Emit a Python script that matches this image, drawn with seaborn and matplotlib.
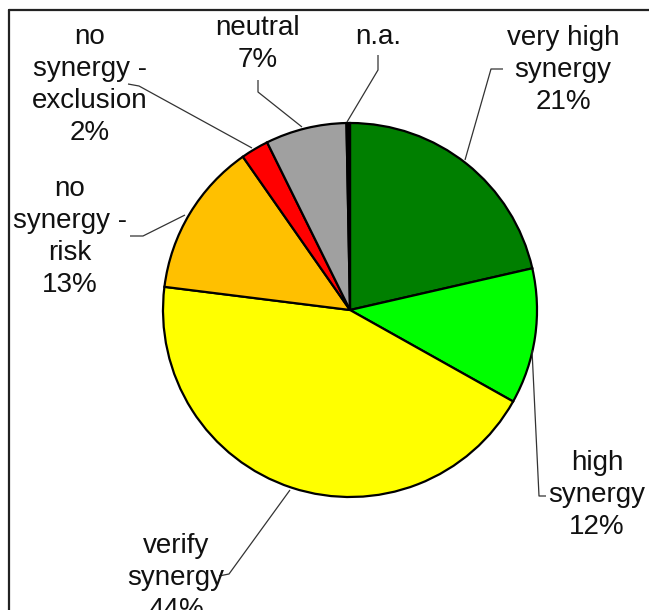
import matplotlib
matplotlib.use("Agg")
import matplotlib.pyplot as plt
import seaborn as sns

# ---- data ----
categories = ["very high\nsynergy", "high\nsynergy", "verify\nsynergy",
              "no\nsynergy -\nrisk", "no\nsynergy -\nexclusion", "neutral", "n.a."]
values = [21.4, 11.7, 43.8, 13.3, 2.4, 7.0, 0.3]
show_pct = [True, True, True, True, True, True, False]
colors = ["#007F00", "#00FF00", "#FFFF00", "#FFC000", "#FF0000", "#A0A0A0", "#000000"]

sns.set_theme(style="white")
plt.rcParams["font.family"] = ["Liberation Sans", "DejaVu Sans"]

W, H = 649, 610
fig = plt.figure(figsize=(W / 100, H / 100), dpi=100)
ax = fig.add_axes([0, 0, 1, 1])

def P(x, y):
    return x, H - y

cx, cy = P(350, 310)
ax.pie(values, colors=colors, startangle=90, counterclock=False,
       center=(cx, cy), radius=187,
       wedgeprops=dict(edgecolor="black", linewidth=1.6))

ax.set_xlim(0, W)
ax.set_ylim(0, H)
ax.set_aspect("equal")
ax.axis("off")

# labels: (x, y) centre in pixel coordinates
label_pos = [(563, 70), (597, 495), (176, 578), (70, 237), (90, 85), (258, 44), (378, 37)]
leaders = [
    [(503, 69), (491, 69), (465, 160)],
    [(546, 496), (539, 496), (532, 350)],
    [(219, 576), (229, 574), (290, 490)],
    [(130, 236), (143, 236), (185, 215)],
    [(128, 84), (139, 86), (252, 148)],
    [(258, 80), (258, 92), (302, 127)],
    [(378, 55), (378, 70), (347, 122)],
]

for cat, v, sp, (lx, ly), pts in zip(categories, values, show_pct, label_pos, leaders):
    txt = cat + (f"\n{v:.0f}%" if sp else "")
    X, Y = P(lx, ly)
    ax.text(X, Y, txt, ha="center", va="center", fontsize=20,
            linespacing=1.3, color="#111111")
    xs = [p[0] for p in pts]
    ys = [H - p[1] for p in pts]
    ax.plot(xs, ys, color="#333333", linewidth=0.9, solid_capstyle="butt")

# outer frame (left and top edges)
ax.plot([9, 9], [0, H - 10], color="#222222", linewidth=1.6, clip_on=False)
ax.plot([9, W], [H - 10, H - 10], color="#222222", linewidth=1.6, clip_on=False)

fig.savefig("out.png", dpi=100, facecolor="white")
